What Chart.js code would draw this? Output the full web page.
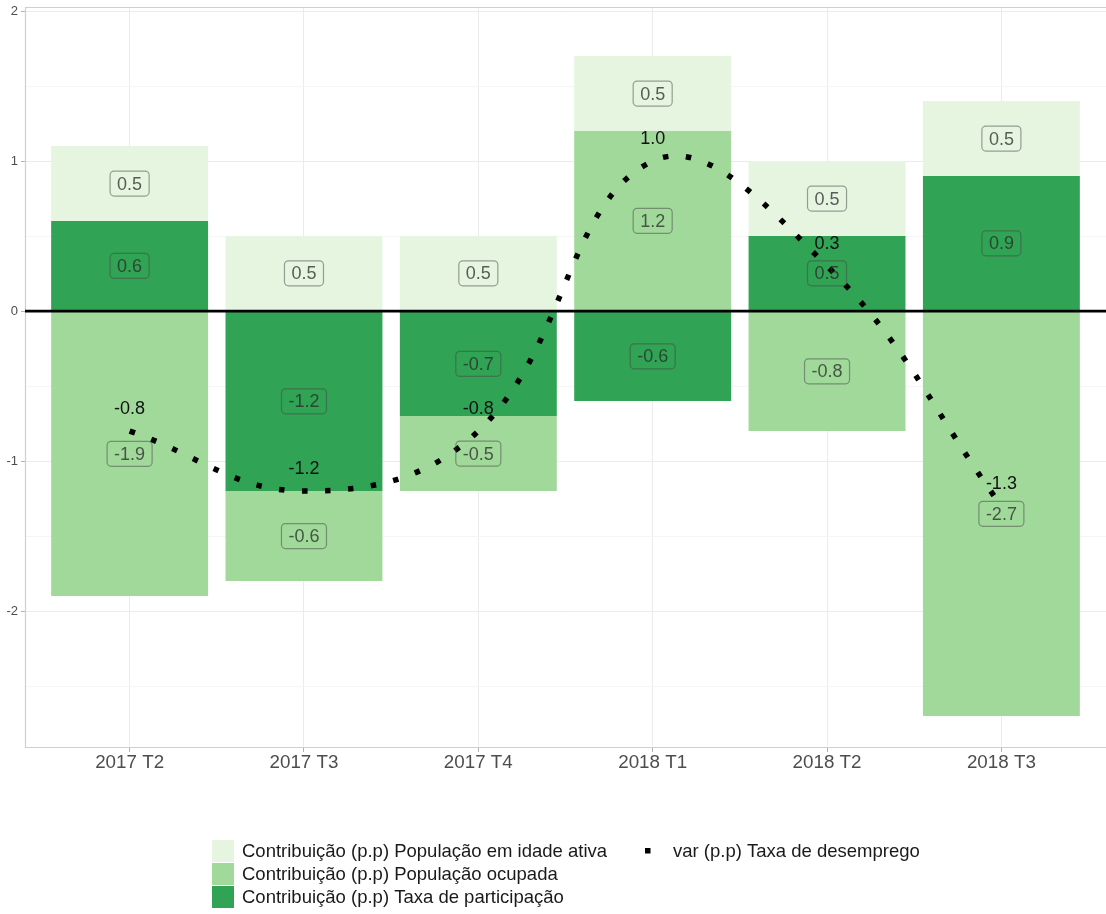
<!DOCTYPE html>
<html>
<head>
<meta charset="utf-8">
<script src="https://cdn.jsdelivr.net/npm/chart.js@4.4.1/dist/chart.umd.min.js"></script>
<style>
  html, body { margin: 0; padding: 0; background: #fff; }
  #wrap { width: 1106px; height: 914px; }
</style>
</head>
<body>
<div id="wrap"><canvas id="chart" width="1106" height="914"></canvas></div>
<script>
// values (p.p.)
const categories = ['2017 T2', '2017 T3', '2017 T4', '2018 T1', '2018 T2', '2018 T3'];
const idadeAtiva = [0.5, 0.5, 0.5, 0.5, 0.5, 0.5];
const ocupada = [-1.9, -0.6, -0.5, 1.2, -0.8, -2.7];
const participacao = [0.6, -1.2, -0.7, -0.6, 0.5, 0.9];
const desemprego = [-0.8, -1.2, -0.8, 1.0, 0.3, -1.3];
const yTicks = [-2, -1, 0, 1, 2];

const FONT = "'Liberation Sans', Arial, sans-serif";
const toPoints = arr => arr.map((v, i) => ({ x: i, y: v }));

// zero line, panel border, value boxes and line labels
const decorations = {
  id: 'decorations',
  beforeDatasetsDraw(chart) {
    const { ctx, chartArea: a } = chart;
    ctx.save();
    ctx.strokeStyle = '#cfcfcf';
    ctx.lineWidth = 1.2;
    ctx.beginPath();
    ctx.moveTo(a.right, a.top + 0.5);
    ctx.lineTo(a.left + 0.5, a.top + 0.5);
    ctx.lineTo(a.left + 0.5, a.bottom - 0.5);
    ctx.lineTo(a.right, a.bottom - 0.5);
    ctx.stroke();
    ctx.restore();
  },
  afterDatasetsDraw(chart) {
    const { ctx, chartArea: a } = chart;
    const y0 = chart.scales.y.getPixelForValue(0);
    ctx.save();
    ctx.strokeStyle = '#000';
    ctx.lineWidth = 2.7;
    ctx.beginPath();
    ctx.moveTo(a.left, y0);
    ctx.lineTo(a.right, y0);
    ctx.stroke();

    ctx.font = '18px ' + FONT;
    ctx.textAlign = 'center';
    ctx.textBaseline = 'middle';
    chart.data.datasets.forEach((ds, i) => {
      const meta = chart.getDatasetMeta(i);
      meta.data.forEach((el, j) => {
        const v = ds.data[j].y;
        const txt = v.toFixed(1);
        if (ds.type === 'bar') {
          const p = el.getProps(['x', 'y', 'base'], true);
          const cy = (p.y + p.base) / 2;
          const w = ctx.measureText(txt).width + 14;
          const h = 25;
          ctx.beginPath();
          ctx.roundRect(p.x - w / 2, cy - h / 2, w, h, 4);
          ctx.strokeStyle = 'rgba(70,70,70,0.5)';
          ctx.lineWidth = 1.2;
          ctx.stroke();
          ctx.fillStyle = 'rgba(40,40,40,0.75)';
          ctx.fillText(txt, p.x, cy + 1);
        } else {
          const p = el.getProps(['x', 'y'], true);
          ctx.fillStyle = '#111';
          ctx.fillText(txt, p.x, p.y - 22);
        }
      });
    });
    ctx.restore();
  },
  afterDraw(chart) {
    const { ctx } = chart;
    const ds = chart.data.datasets;
    ctx.save();
    ctx.font = '18.5px ' + FONT;
    ctx.textAlign = 'left';
    ctx.textBaseline = 'middle';
    ctx.fillStyle = '#1a1a1a';
    [2, 1, 0].forEach((k, r) => {
      const top = 840 + r * 23;
      ctx.fillStyle = ds[k].backgroundColor;
      ctx.fillRect(212, top, 22, 22);
      ctx.fillStyle = '#1a1a1a';
      ctx.fillText(ds[k].label, 242, top + 12);
    });
    ctx.fillStyle = '#000';
    ctx.fillRect(645, 848, 5.5, 5.5);
    ctx.fillStyle = '#1a1a1a';
    ctx.fillText(ds[3].label, 673, 852);
    ctx.restore();
  }
};

new Chart(document.getElementById('chart').getContext('2d'), {
  type: 'bar',
  data: {
    datasets: [
      {
        type: 'bar',
        label: 'Contribuição (p.p) Taxa de participação',
        data: toPoints(participacao),
        backgroundColor: '#31a354',
        order: 1
      },
      {
        type: 'bar',
        label: 'Contribuição (p.p) População ocupada',
        data: toPoints(ocupada),
        backgroundColor: '#a1d99b',
        order: 1
      },
      {
        type: 'bar',
        label: 'Contribuição (p.p) População em idade ativa',
        data: toPoints(idadeAtiva),
        backgroundColor: '#e5f5e0',
        order: 1
      },
      {
        type: 'line',
        label: 'var (p.p) Taxa de desemprego',
        data: toPoints(desemprego),
        borderColor: '#000',
        borderWidth: 5.5,
        borderDash: [5.5, 17.5],
        borderCapStyle: 'butt',
        pointRadius: 0,
        tension: 0.4,
        fill: false,
        order: 0
      }
    ]
  },
  options: {
    responsive: false,
    animation: false,
    barPercentage: 0.9,
    categoryPercentage: 1,
    layout: { padding: { top: 7, left: 0, right: 0, bottom: 126 } },
    plugins: {
      legend: { display: false },
      tooltip: { enabled: false }
    },
    scales: {
      x: {
        type: 'linear',
        stacked: true,
        min: -0.6,
        max: 5.6,
        offset: false,
        afterFit: s => { s.height = 40; s.paddingLeft = 0; s.paddingRight = 0; },
        border: { display: false },
        grid: { color: '#ebebeb', tickColor: '#b3b3b3', tickLength: 4, offset: false },
        ticks: {
          stepSize: 1,
          includeBounds: false,
          autoSkip: false,
          maxRotation: 0,
          padding: 0,
          color: '#4d4d4d',
          font: { family: FONT, size: 18.8 },
          callback: v => categories[v] ?? ''
        }
      },
      y: {
        stacked: true,
        min: -2.913,
        max: 2.027,
        afterFit: s => { s.width = 25; s.paddingTop = 0; s.paddingBottom = 0; },
        border: { display: false },
        grid: {
          color: c => Number.isInteger(c.tick.value) ? '#ebebeb' : '#f5f5f5',
          tickColor: c => Number.isInteger(c.tick.value) ? '#b3b3b3' : 'rgba(0,0,0,0)',
          tickLength: 4
        },
        ticks: {
          stepSize: 0.5,
          includeBounds: false,
          padding: 3,
          color: '#4d4d4d',
          font: { family: FONT, size: 13 },
          callback: v => yTicks.includes(v) ? String(v) : ''
        }
      }
    }
  },
  plugins: [decorations]
});
</script>
</body>
</html>
